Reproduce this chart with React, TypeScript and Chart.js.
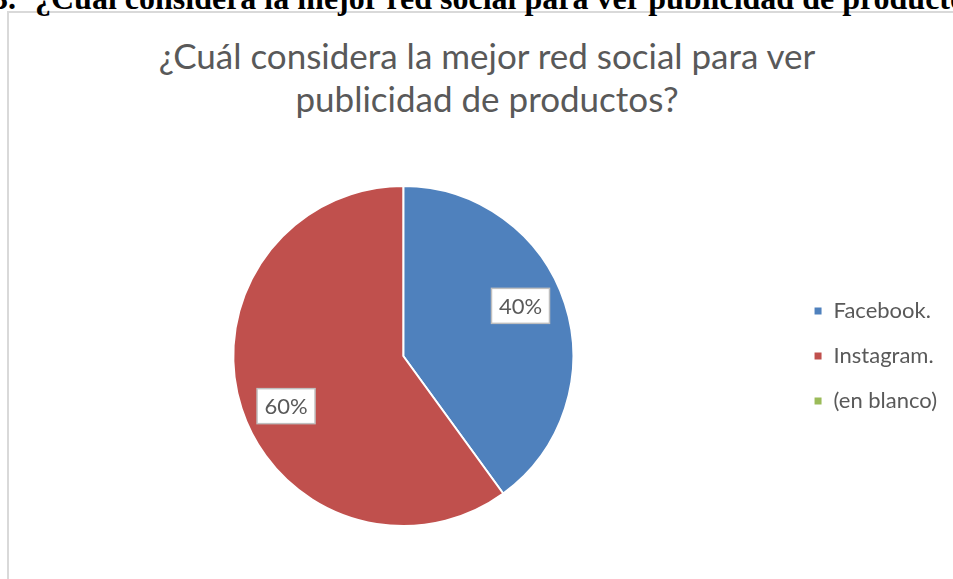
import React, { useEffect, useRef } from "react";
import { Chart, registerables } from "chart.js";

Chart.register(...registerables);

const headingNumber = "3.";
const headingText = "¿Cuál considera la mejor red social para ver publicidad de productos?";
const titleLines = ["¿Cuál considera la mejor red social para ver", "publicidad de productos?"];
const categories = ["Facebook.", "Instagram.", "(en blanco)"];
const values = [40, 60, 0];
const percentLabels = ["40%", "60%", ""];
const colors = ["#4F81BD", "#C0504D", "#9BBB59"];

const labelBoxes = {
  id: "labelBoxes",
  afterDatasetsDraw(chart: any) {
    const ctx = chart.ctx;
    const meta = chart.getDatasetMeta(0);
    ctx.save();
    ctx.font = "22px Lato";
    ctx.textAlign = "center";
    ctx.textBaseline = "middle";
    meta.data.forEach((arc: any, i: number) => {
      const v = values[i];
      if (!v) return;
      const { x, y, startAngle, endAngle, outerRadius } = arc.getProps(
        ["x", "y", "startAngle", "endAngle", "outerRadius"],
        true
      );
      const mid = (startAngle + endAngle) / 2 - 0.09;
      const r = outerRadius * 0.75;
      const cx = x + Math.cos(mid) * r;
      const cy = y + Math.sin(mid) * r;
      const txt = percentLabels[i];
      const w = 58;
      const h = 35;
      ctx.fillStyle = "#ffffff";
      ctx.fillRect(cx - w / 2, cy - h / 2, w, h);
      ctx.strokeStyle = "#bfbfbf";
      ctx.lineWidth = 1.5;
      ctx.strokeRect(cx - w / 2, cy - h / 2, w, h);
      ctx.fillStyle = "#595959";
      ctx.fillText(txt, cx, cy + 1);
    });
    ctx.restore();
  },
};

export default function App() {
  const ref = useRef<HTMLCanvasElement>(null);
  useEffect(() => {
    if (!ref.current) return;
    const chart = new Chart(ref.current, {
      type: "pie",
      data: {
        labels: categories,
        datasets: [
          {
            data: values,
            backgroundColor: colors,
            borderColor: "#ffffff",
            borderWidth: 2,
          },
        ],
      },
      options: {
        responsive: false,
        animation: false,
        layout: { padding: { left: 16, top: 185, bottom: 52, right: 6 } },
        plugins: {
          legend: {
            position: "right",
            align: "center",
            labels: {
              boxWidth: 9,
              boxHeight: 9,
              padding: 23,
              color: "#595959",
              font: { family: "Lato", size: 22 },
            },
          },
          tooltip: { enabled: false },
          title: { display: false },
        },
      },
      plugins: [labelBoxes],
    });
    return () => chart.destroy();
  }, []);

  return (
    <div
      style={{
        position: "fixed",
        left: 0,
        top: 0,
        width: 953,
        height: 579,
        overflow: "hidden",
        background: "#ffffff",
      }}
    >
      <div
        style={{
          position: "absolute",
          left: 7,
          top: 11,
          width: 990,
          height: 620,
          border: "2px solid #d9d9d9",
          boxSizing: "border-box",
        }}
      />
      <div
        style={{
          position: "absolute",
          left: -8,
          top: -18,
          whiteSpace: "nowrap",
          fontFamily: "'Liberation Serif', serif",
          fontWeight: "bold",
          fontSize: 32,
          lineHeight: "32px",
          color: "#000",
        }}
      >
        <span>{headingNumber}</span>
        <span style={{ position: "absolute", left: 43, top: 0 }}>{headingText}</span>
      </div>
      <div
        style={{
          position: "absolute",
          left: 0,
          top: 34,
          width: 974,
          textAlign: "center",
          fontFamily: "Lato, sans-serif",
          fontSize: 35,
          lineHeight: "43px",
          color: "#595959",
        }}
      >
        {titleLines.map((t, i) => (
          <div key={i}>{t}</div>
        ))}
      </div>
      <canvas
        ref={ref}
        width={953}
        height={579}
        style={{ position: "absolute", left: 0, top: 0, width: 953, height: 579 }}
      />
    </div>
  );
}
